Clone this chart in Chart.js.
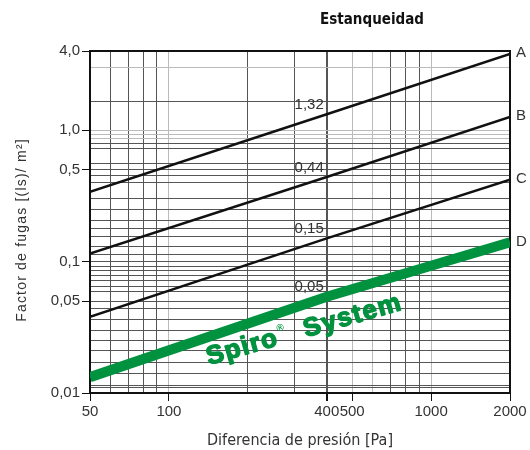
<!DOCTYPE html>
<html>
<head>
<meta charset="utf-8">
<script src="https://cdn.jsdelivr.net/npm/chart.js@4"></script>
<style>
  body { margin: 0; background: #fff; }
</style>
</head>
<body>
<canvas id="leakChart" width="530" height="450"></canvas>
<script>
// pressure points (Pa) where each class line is read
const pressures = [50, 400, 2000];
const lineA = [0.34, 1.32, 3.8];
const lineB = [0.115, 0.44, 1.26];
const lineC = [0.038, 0.15, 0.42];
const lineD = [0.0132, 0.054, 0.14];   // Spiro System
const classNames = ['A', 'B', 'C', 'D'];
const refLabels = ['1,32', '0,44', '0,15', '0,05'];

const xTickValues = [50, 100, 400, 500, 1000, 2000];
const xGridValues = [50, 60, 70, 80, 90, 100, 200, 300, 400, 500, 600, 700, 800, 900, 1000, 2000];
const xLightGrid = [100, 500, 600, 1000];

const yTickValues = [4, 1, 0.5, 0.1, 0.05, 0.01];
const yTickLabels = ['4,0', '1,0', '0,5', '0,1', '0,05', '0,01'];
const yGridValues = [0.01, 0.011, 0.0115, 0.014, 0.017, 0.021, 0.025, 0.03, 0.036, 0.044, 0.05,
  0.059, 0.065, 0.072, 0.079, 0.086, 0.092, 0.1, 0.114, 0.13, 0.154, 0.177, 0.204, 0.247,
  0.3, 0.4, 0.45, 0.5, 0.56, 0.72, 0.79, 0.86, 0.93, 1, 1.66, 3, 4];
const yLightGrid = [3, 1, 0.93, 0.86];

const GREEN = '#00923f';
const TXT = '#333';

function pts(vals) {
  return pressures.map((p, i) => ({ x: p, y: vals[i] }));
}

// heavy green text (fill + stroke)
function heavyText(ctx, str, x, y) {
  ctx.fillText(str, x, y);
  ctx.strokeText(str, x, y);
}

const extras = {
  id: 'extras',
  beforeDatasetsDraw(chart) {
    const { ctx, chartArea: a } = chart;
    ctx.save();
    ctx.strokeStyle = '#111';
    ctx.lineWidth = 2;
    ctx.strokeRect(a.left, a.top, a.right - a.left, a.bottom - a.top);
    ctx.restore();
  },
  afterDraw(chart) {
    const { ctx, scales: { x, y } } = chart;
    const series = [lineA, lineB, lineC, lineD];
    ctx.save();
    // title
    ctx.fillStyle = '#111';
    ctx.font = 'bold 15px "Liberation Sans Narrow", "DejaVu Sans Condensed", sans-serif';
    ctx.textAlign = 'center';
    ctx.textBaseline = 'middle';
    ctx.fillText('Estanqueidad', 372, 20);
    // axis titles
    ctx.fillStyle = TXT;
    ctx.font = '16px "Liberation Sans Narrow", "DejaVu Sans Condensed", sans-serif';
    ctx.fillText('Diferencia de presión [Pa]', 300, 441);
    ctx.save();
    ctx.translate(22, 230);
    ctx.rotate(-Math.PI / 2);
    ctx.font = '14px "Liberation Sans", Arial, sans-serif';
    ctx.letterSpacing = '1.2px';
    ctx.fillText('Factor de fugas [(ls)/ m²]', 0, 0);
    ctx.restore();
    // class letters and values at 400 Pa
    ctx.font = '15px "Liberation Sans", Arial, sans-serif';
    series.forEach((s, i) => {
      const last = s[s.length - 1];
      ctx.textAlign = 'left';
      ctx.textBaseline = 'middle';
      ctx.fillText(classNames[i], x.right + 6, y.getPixelForValue(last) - 1);
      ctx.textAlign = 'right';
      ctx.textBaseline = 'bottom';
      ctx.fillText(refLabels[i], x.getPixelForValue(400) - 3, y.getPixelForValue(s[1]) - 2);
    });
    // Spiro System text under the green line
    ctx.translate(209, 365);
    ctx.rotate(-16 * Math.PI / 180);
    ctx.fillStyle = GREEN;
    ctx.strokeStyle = GREEN;
    ctx.lineWidth = 1.4;
    ctx.lineJoin = 'round';
    ctx.textAlign = 'left';
    ctx.textBaseline = 'alphabetic';
    ctx.letterSpacing = '1.5px';
    ctx.font = 'bold 26px "Liberation Sans", Arial, sans-serif';
    heavyText(ctx, 'Spiro', 0, 0);
    const w = ctx.measureText('Spiro').width;
    ctx.letterSpacing = '0px';
    ctx.font = 'bold 10px "Liberation Sans", Arial, sans-serif';
    ctx.fillText('®', w + 1, -13);
    ctx.letterSpacing = '1.5px';
    ctx.font = 'bold 26px "Liberation Sans", Arial, sans-serif';
    heavyText(ctx, 'System', 101, 0);
    ctx.restore();
  }
};

new Chart(document.getElementById('leakChart'), {
  type: 'line',
  data: {
    datasets: [
      { data: pts(lineA), borderColor: '#111', borderWidth: 2.5 },
      { data: pts(lineB), borderColor: '#111', borderWidth: 2.5 },
      { data: pts(lineC), borderColor: '#111', borderWidth: 2.5 },
      { data: pts(lineD), borderColor: GREEN, borderWidth: 10, borderCapStyle: 'butt' }
    ]
  },
  options: {
    responsive: false,
    animation: false,
    layout: { padding: { top: 51, right: 20, left: 0, bottom: 0 } },
    elements: { point: { radius: 0 }, line: { tension: 0 } },
    plugins: { legend: { display: false }, tooltip: { enabled: false } },
    scales: {
      x: {
        type: 'logarithmic',
        min: 50,
        max: 2000,
        afterBuildTicks: s => { s.ticks = xGridValues.map(v => ({ value: v })); },
        afterFit: s => { s.height = 57; },
        ticks: {
          autoSkip: false,
          maxRotation: 0,
          minRotation: 0,
          padding: 2,
          color: TXT,
          font: { size: 15, family: '"Liberation Sans", Arial, sans-serif' },
          callback: v => xTickValues.includes(v) ? String(v) : ''
        },
        grid: {
          color: c => xLightGrid.includes(c.tick && c.tick.value) ? '#bbb' : '#555',
          lineWidth: c => (c.tick && c.tick.value === 400) ? 2 : 1,
          tickLength: 8,
          tickColor: c => xTickValues.includes(c.tick && c.tick.value) ? '#111' : 'rgba(0,0,0,0)'
        },
        border: { color: '#111', width: 2 }
      },
      y: {
        type: 'logarithmic',
        min: 0.01,
        max: 4,
        afterBuildTicks: s => { s.ticks = yGridValues.map(v => ({ value: v })); },
        afterFit: s => { s.width = 90; },
        ticks: {
          autoSkip: false,
          padding: 2,
          color: TXT,
          font: { size: 15, family: '"Liberation Sans", Arial, sans-serif' },
          callback: v => {
            const i = yTickValues.indexOf(v);
            return i >= 0 ? yTickLabels[i] : '';
          }
        },
        grid: {
          color: c => yLightGrid.includes(c.tick && c.tick.value) ? '#bbb' : '#555',
          lineWidth: 1,
          tickLength: 8,
          tickColor: c => yTickValues.includes(c.tick && c.tick.value) ? '#111' : 'rgba(0,0,0,0)'
        },
        border: { color: '#111', width: 2 }
      }
    }
  },
  plugins: [extras]
});
</script>
</body>
</html>
